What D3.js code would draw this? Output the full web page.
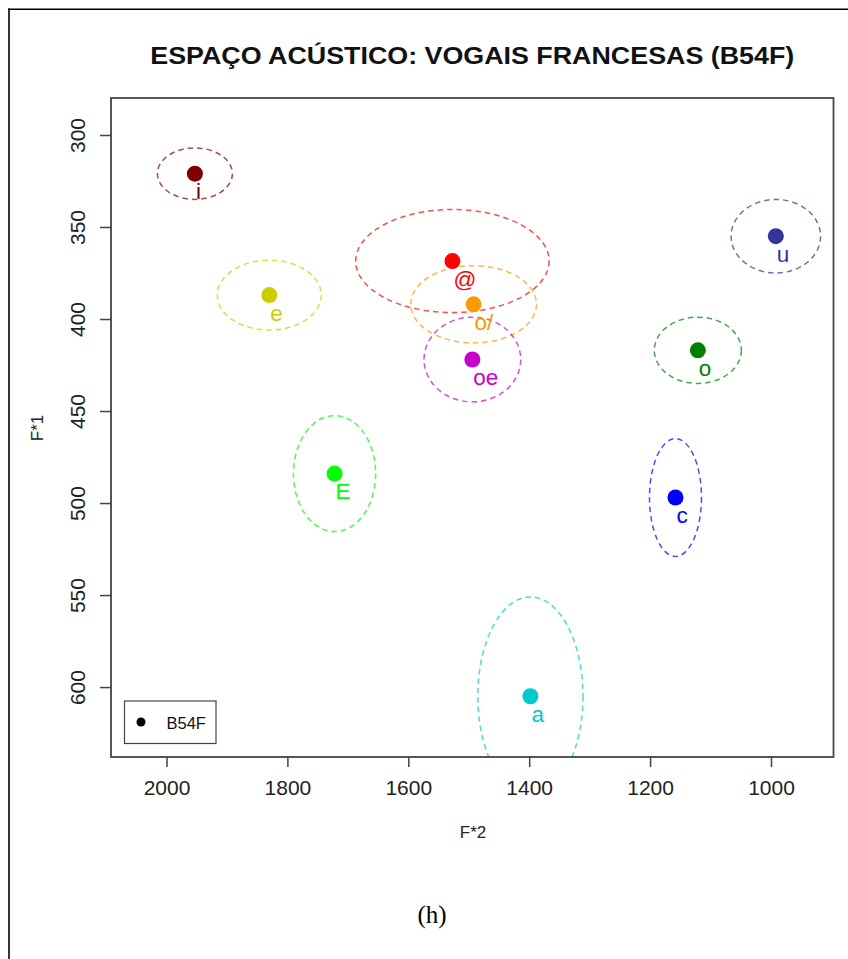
<!DOCTYPE html>
<html>
<head>
<meta charset="utf-8">
<script src="https://cdn.jsdelivr.net/npm/d3@7"></script>
<style>
  body { margin: 0; background: #fff; }
  svg { display: block; }
</style>
</head>
<body>
<script>
// Vowel means (F*2, F*1 in Hz) with ellipse radii for speaker B54F
const vowels  = ["i", "e", "@", "o/", "oe", "u", "o", "E", "c", "a"];
const f2Mean  = [1953, 1830, 1527, 1492, 1494, 992, 1121, 1722, 1158, 1398];
const f1Mean  = [321, 387, 368.5, 392, 422, 355, 417, 484, 497, 605];
const f2Rad   = [62, 86, 160, 104, 80, 74, 72, 68, 43, 87];
const f1Rad   = [14, 19, 28, 21, 23, 20, 18, 31.5, 32, 54];
const colors  = ["#7f0000", "#cccc00", "#ff0000", "#ff9900", "#cc00cc",
                 "#333399", "#007f00", "#00ff00", "#0000ff", "#00cccc"];
const xTicks  = [2000, 1800, 1600, 1400, 1200, 1000];
const yTicks  = [300, 350, 400, 450, 500, 550, 600];
const speaker = "B54F";

const W = 848, H = 959;
const plot = { left: 111, right: 833.5, top: 98, bottom: 757 };

const svg = d3.select("body").append("svg").attr("width", W).attr("height", H);

// frame of the surrounding cell
svg.append("line").attr("x1", 8).attr("x2", W).attr("y1", 9.3).attr("y2", 9.3)
  .attr("stroke", "#000").attr("stroke-width", 1.6);
svg.append("line").attr("x1", 9).attr("x2", 9).attr("y1", 8.5).attr("y2", H)
  .attr("stroke", "#000").attr("stroke-width", 1.6);

const x = d3.scaleLinear().domain([2091.8, 896.6]).range([plot.left, plot.right]);
const y = d3.scaleLinear().domain([279.9, 638.0]).range([plot.top, plot.bottom]);

const font = "'Liberation Sans', Arial, Helvetica, sans-serif";

// title
svg.append("text").attr("x", (plot.left + plot.right) / 2).attr("y", 64)
  .attr("text-anchor", "middle").attr("font-family", font)
  .attr("font-weight", "bold").attr("font-size", 24).attr("fill", "#111")
  .attr("textLength", 644).attr("lengthAdjust", "spacingAndGlyphs")
  .text("ESPAÇO ACÚSTICO: VOGAIS FRANCESAS (B54F)");

svg.append("clipPath").attr("id", "plotclip").append("rect")
  .attr("x", plot.left).attr("y", plot.top)
  .attr("width", plot.right - plot.left).attr("height", plot.bottom - plot.top);

const data = vowels.map((v, i) => ({
  v, f2: f2Mean[i], f1: f1Mean[i], r2: f2Rad[i], r1: f1Rad[i], c: colors[i]
}));

// dispersion ellipses
svg.append("g").attr("clip-path", "url(#plotclip)")
  .selectAll("ellipse").data(data).join("ellipse")
  .attr("cx", d => x(d.f2)).attr("cy", d => y(d.f1))
  .attr("rx", d => Math.abs(x(d.f2 + d.r2) - x(d.f2)))
  .attr("ry", d => Math.abs(y(d.f1 + d.r1) - y(d.f1)))
  .attr("fill", "none").attr("stroke", d => d.c).attr("stroke-opacity", 0.7)
  .attr("stroke-width", 1.5).attr("stroke-dasharray", "5.5,4");

// labels, then points on top
svg.append("g").selectAll("text").data(data).join("text")
  .attr("x", d => x(d.f2) + 1).attr("y", d => y(d.f1) + 25.5)
  .attr("font-family", font).attr("font-size", 22.5).attr("fill", d => d.c)
  .text(d => d.v);

svg.append("g").selectAll("circle").data(data).join("circle")
  .attr("cx", d => x(d.f2)).attr("cy", d => y(d.f1)).attr("r", 8)
  .attr("fill", d => d.c);

// plot box
svg.append("rect").attr("x", plot.left).attr("y", plot.top)
  .attr("width", plot.right - plot.left).attr("height", plot.bottom - plot.top)
  .attr("fill", "none").attr("stroke", "#444").attr("stroke-width", 1.8);

// x axis
const xAxis = svg.append("g").attr("transform", `translate(0,${plot.bottom})`)
  .call(d3.axisBottom(x).tickValues(xTicks).tickSize(10).tickPadding(28)
    .tickFormat(d3.format("d")));
xAxis.select(".domain").remove();
xAxis.selectAll(".tick line").attr("stroke", "#444").attr("stroke-width", 1.5);
xAxis.selectAll(".tick text").attr("font-family", font).attr("font-size", 21)
  .attr("fill", "#222").attr("dy", 0).attr("y", 38);

// y axis
const yAxis = svg.append("g").attr("transform", `translate(${plot.left},0)`)
  .call(d3.axisLeft(y).tickValues(yTicks).tickSize(11).tickFormat(d3.format("d")));
yAxis.select(".domain").remove();
yAxis.selectAll(".tick line").attr("stroke", "#444").attr("stroke-width", 1.5);
yAxis.selectAll(".tick text").attr("font-family", font).attr("font-size", 21)
  .attr("fill", "#222").attr("text-anchor", "middle").attr("dy", 0)
  .attr("x", null)
  .attr("transform", `translate(${85 - plot.left},0) rotate(-90)`);

// axis titles
svg.append("text").attr("x", 473).attr("y", 838).attr("text-anchor", "middle")
  .attr("font-family", font).attr("font-size", 17).attr("fill", "#222").text("F*2");
svg.append("text").attr("transform", "translate(42.5,428) rotate(-90)")
  .attr("text-anchor", "middle").attr("font-family", font).attr("font-size", 17)
  .attr("fill", "#222").text("F*1");

// legend
const leg = svg.append("g");
leg.append("rect").attr("x", 124.5).attr("y", 701).attr("width", 91.5).attr("height", 42.5)
  .attr("fill", "#fff").attr("stroke", "#444").attr("stroke-width", 1.2);
leg.append("circle").attr("cx", 141).attr("cy", 722).attr("r", 4.5).attr("fill", "#000");
leg.append("text").attr("x", 166.5).attr("y", 729).attr("font-family", font)
  .attr("font-size", 16.5).attr("fill", "#111").text(speaker);

// caption below the figure
svg.append("text").attr("x", 432).attr("y", 923).attr("text-anchor", "middle")
  .attr("font-family", "'Liberation Serif', 'Times New Roman', serif")
  .attr("font-size", 25).attr("fill", "#000").text("(h)");
</script>
</body>
</html>
